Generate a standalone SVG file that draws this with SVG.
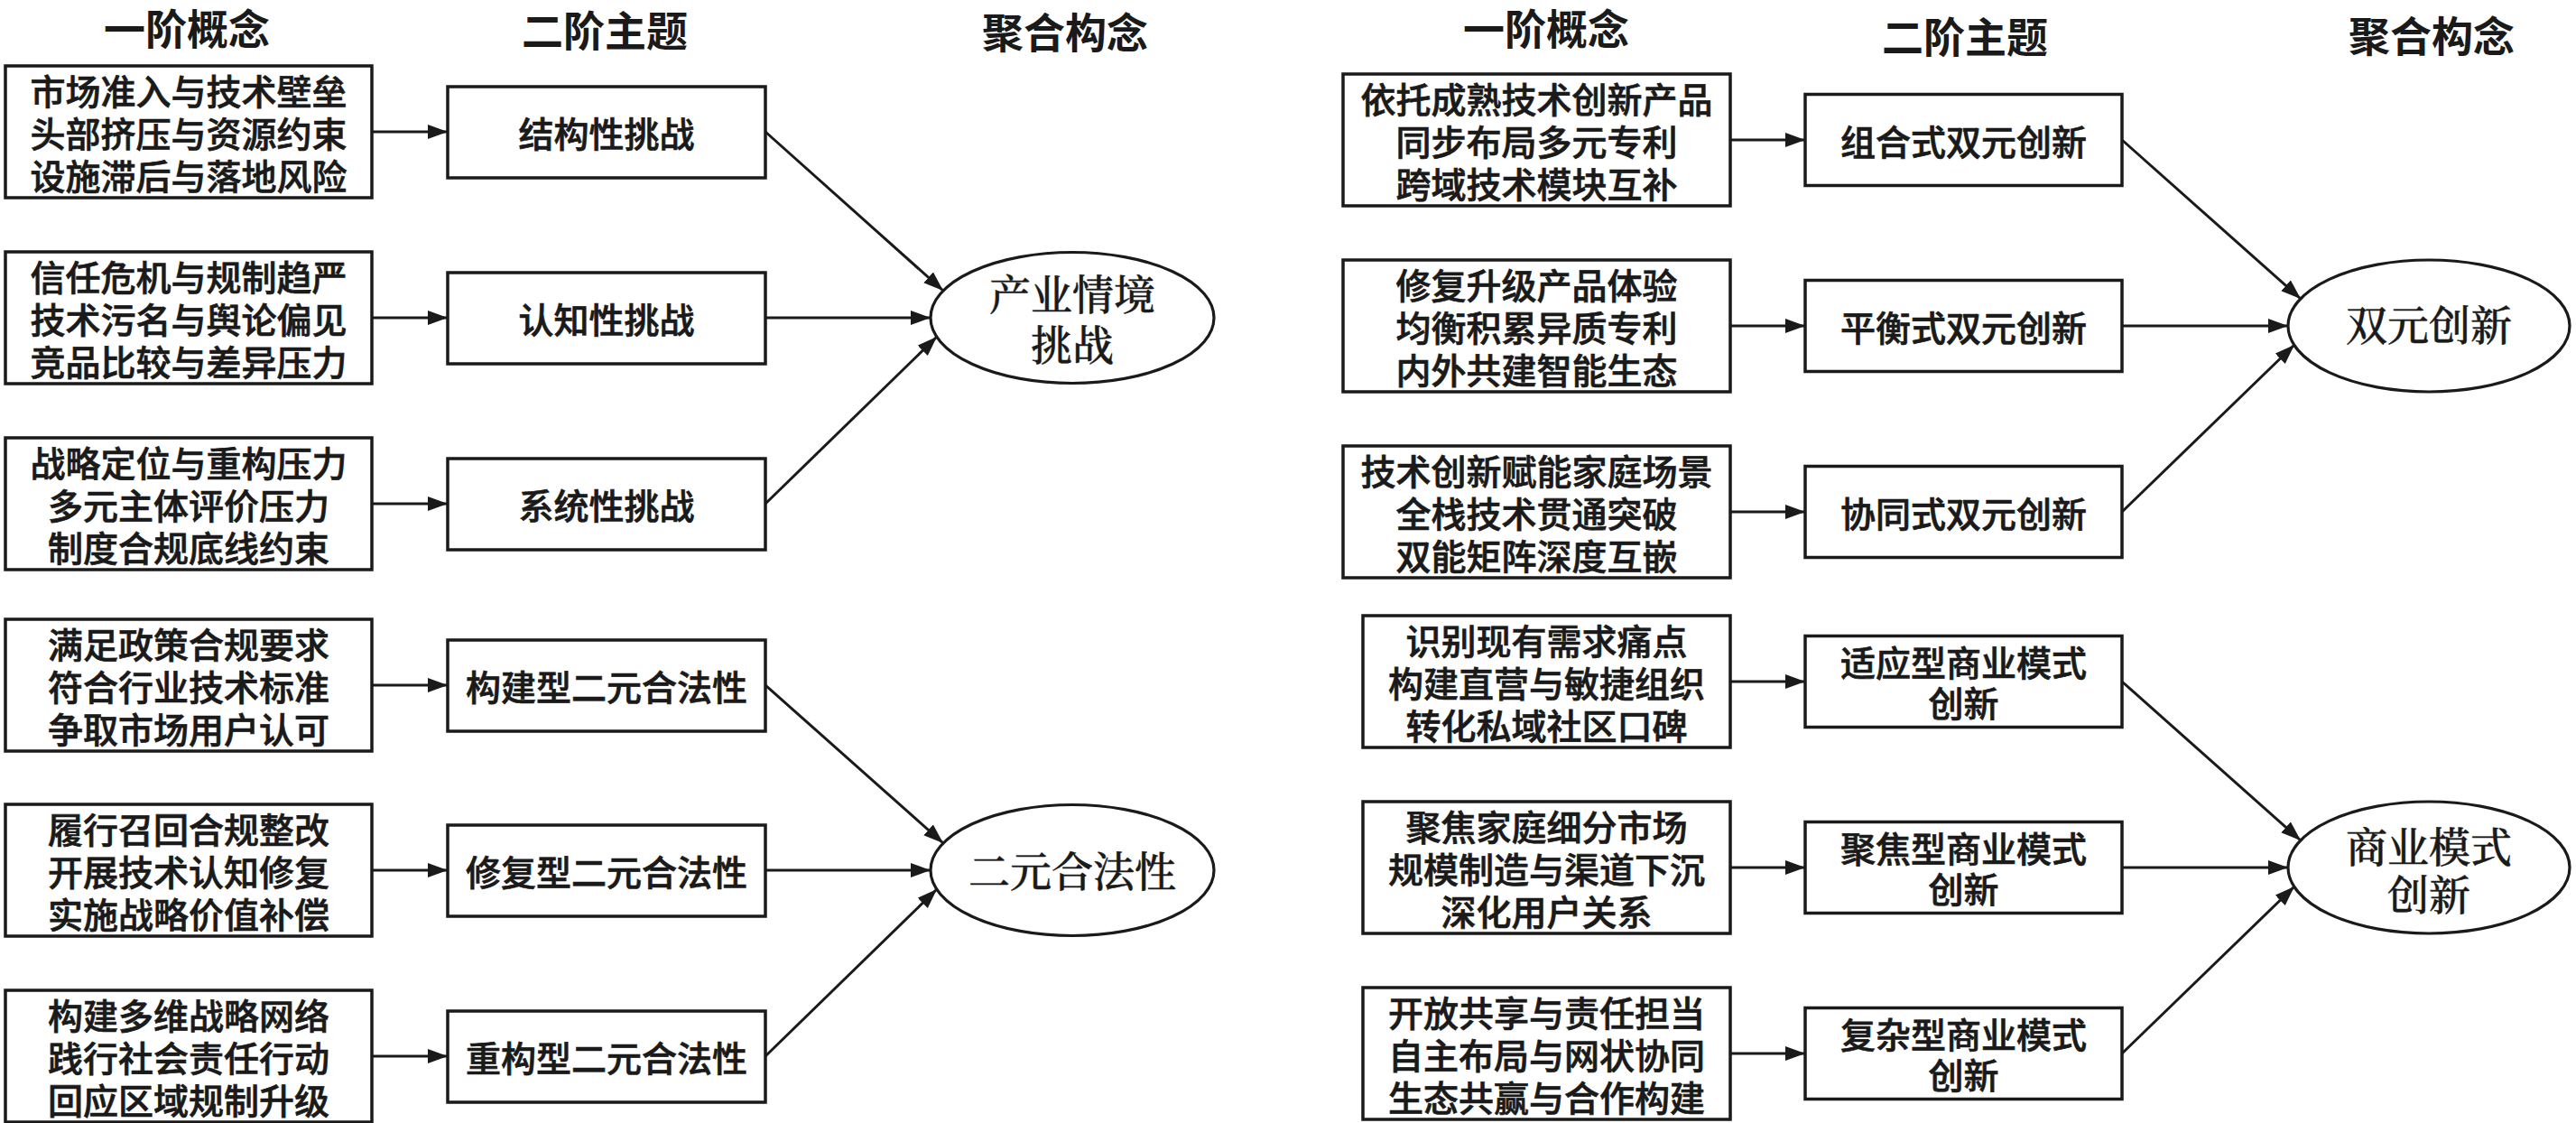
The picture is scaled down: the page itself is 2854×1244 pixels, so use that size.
<svg xmlns="http://www.w3.org/2000/svg" width="2854" height="1244" viewBox="0 0 2854 1244">
<style>
  .bg{fill:#ffffff}
  .box{fill:#ffffff;stroke:#1a1a1a;stroke-width:3.5}
  .ell{fill:#ffffff;stroke:#1a1a1a;stroke-width:3.2}
  .t{font-family:"Noto Sans CJK SC","Noto Sans",sans-serif;font-size:39px;font-weight:500;fill:#1a1a1a;stroke:#1a1a1a;stroke-width:0.7;text-anchor:middle;dominant-baseline:central}
  .h{font-family:"Noto Sans CJK SC","Noto Sans",sans-serif;font-size:46px;font-weight:700;fill:#1a1a1a;text-anchor:middle;dominant-baseline:central}
  .e{font-family:"Noto Serif CJK SC","Noto Sans CJK SC",serif;font-size:46px;font-weight:500;fill:#1a1a1a;stroke:#1a1a1a;stroke-width:0.5;text-anchor:middle;dominant-baseline:central}
  .c{stroke:#1a1a1a;stroke-width:3;fill:none;marker-end:url(#arr)}
</style>
<defs>
  <marker id="arr" markerUnits="userSpaceOnUse" markerWidth="24" markerHeight="18" refX="22" refY="8" orient="auto">
    <path d="M0,0 L22,8 L0,16 Z" fill="#1a1a1a"/>
  </marker>
</defs>
<rect class="bg" x="0" y="0" width="2854" height="1244"/>

<g id="headers">
  <text class="h" x="207" y="29">一阶概念</text>
  <text class="h" x="670" y="31">二阶主题</text>
  <text class="h" x="1180" y="33">聚合构念</text>
  <text class="h" x="1713" y="29">一阶概念</text>
  <text class="h" x="2177" y="38">二阶主题</text>
  <text class="h" x="2694" y="37">聚合构念</text>
</g>

<g id="connectors">
  <line class="c" x1="412" y1="146" x2="496" y2="146"/>
  <line class="c" x1="412" y1="352" x2="496" y2="352"/>
  <line class="c" x1="412" y1="558" x2="496" y2="558"/>
  <line class="c" x1="412" y1="759" x2="496" y2="759"/>
  <line class="c" x1="412" y1="964" x2="496" y2="964"/>
  <line class="c" x1="412" y1="1170" x2="496" y2="1170"/>
  <line class="c" x1="848" y1="146" x2="1045" y2="322"/>
  <line class="c" x1="848" y1="352" x2="1031" y2="352"/>
  <line class="c" x1="848" y1="558" x2="1038" y2="373"/>
  <line class="c" x1="848" y1="759" x2="1045" y2="934"/>
  <line class="c" x1="848" y1="964" x2="1031" y2="964"/>
  <line class="c" x1="848" y1="1170" x2="1038" y2="985"/>
  <line class="c" x1="1917" y1="155" x2="2000" y2="155"/>
  <line class="c" x1="1917" y1="361" x2="2000" y2="361"/>
  <line class="c" x1="1917" y1="567" x2="2000" y2="567"/>
  <line class="c" x1="1917" y1="755" x2="2000" y2="755"/>
  <line class="c" x1="1917" y1="961" x2="2000" y2="961"/>
  <line class="c" x1="1917" y1="1167" x2="2000" y2="1167"/>
  <line class="c" x1="2351" y1="155" x2="2549" y2="331"/>
  <line class="c" x1="2351" y1="361" x2="2535" y2="361"/>
  <line class="c" x1="2351" y1="567" x2="2542" y2="382"/>
  <line class="c" x1="2351" y1="755" x2="2549" y2="931"/>
  <line class="c" x1="2351" y1="961" x2="2535" y2="961"/>
  <line class="c" x1="2351" y1="1167" x2="2542" y2="982"/>
</g>

<!-- Left: first-order concepts -->
<g id="lc1"><rect class="box" x="6" y="73" width="406" height="146"/>
  <text class="t" x="209" y="99">市场准入与技术壁垒</text><text class="t" x="209" y="146">头部挤压与资源约束</text><text class="t" x="209" y="193">设施滞后与落地风险</text></g>
<g id="lc2"><rect class="box" x="6" y="279" width="406" height="146"/>
  <text class="t" x="209" y="305">信任危机与规制趋严</text><text class="t" x="209" y="352">技术污名与舆论偏见</text><text class="t" x="209" y="399">竞品比较与差异压力</text></g>
<g id="lc3"><rect class="box" x="6" y="485" width="406" height="146"/>
  <text class="t" x="209" y="511">战略定位与重构压力</text><text class="t" x="209" y="558">多元主体评价压力</text><text class="t" x="209" y="605">制度合规底线约束</text></g>
<g id="lc4"><rect class="box" x="6" y="686" width="406" height="146"/>
  <text class="t" x="209" y="712">满足政策合规要求</text><text class="t" x="209" y="759">符合行业技术标准</text><text class="t" x="209" y="806">争取市场用户认可</text></g>
<g id="lc5"><rect class="box" x="6" y="891" width="406" height="146"/>
  <text class="t" x="209" y="917">履行召回合规整改</text><text class="t" x="209" y="964">开展技术认知修复</text><text class="t" x="209" y="1011">实施战略价值补偿</text></g>
<g id="lc6"><rect class="box" x="6" y="1097" width="406" height="146"/>
  <text class="t" x="209" y="1123">构建多维战略网络</text><text class="t" x="209" y="1170">践行社会责任行动</text><text class="t" x="209" y="1217">回应区域规制升级</text></g>

<!-- Left: second-order themes -->
<g id="lt1"><rect class="box" x="496" y="96" width="352" height="101"/><text class="t" x="672" y="146">结构性挑战</text></g>
<g id="lt2"><rect class="box" x="496" y="302" width="352" height="101"/><text class="t" x="672" y="352">认知性挑战</text></g>
<g id="lt3"><rect class="box" x="496" y="508" width="352" height="101"/><text class="t" x="672" y="558">系统性挑战</text></g>
<g id="lt4"><rect class="box" x="496" y="709" width="352" height="101"/><text class="t" x="672" y="759">构建型二元合法性</text></g>
<g id="lt5"><rect class="box" x="496" y="914" width="352" height="101"/><text class="t" x="672" y="964">修复型二元合法性</text></g>
<g id="lt6"><rect class="box" x="496" y="1120" width="352" height="101"/><text class="t" x="672" y="1170">重构型二元合法性</text></g>

<!-- Left: aggregate constructs -->
<g id="la1"><ellipse class="ell" cx="1188" cy="352" rx="157" ry="72.5"/>
  <text class="e" x="1188" y="323">产业情境</text><text class="e" x="1188" y="379">挑战</text></g>
<g id="la2"><ellipse class="ell" cx="1188" cy="964" rx="157" ry="72.5"/>
  <text class="e" x="1188" y="962">二元合法性</text></g>

<!-- Right: first-order concepts -->
<g id="rc1"><rect class="box" x="1488" y="82" width="429" height="146"/>
  <text class="t" x="1702.5" y="108">依托成熟技术创新产品</text><text class="t" x="1702.5" y="155">同步布局多元专利</text><text class="t" x="1702.5" y="202">跨域技术模块互补</text></g>
<g id="rc2"><rect class="box" x="1488" y="288" width="429" height="146"/>
  <text class="t" x="1702.5" y="314">修复升级产品体验</text><text class="t" x="1702.5" y="361">均衡积累异质专利</text><text class="t" x="1702.5" y="408">内外共建智能生态</text></g>
<g id="rc3"><rect class="box" x="1488" y="494" width="429" height="146"/>
  <text class="t" x="1702.5" y="520">技术创新赋能家庭场景</text><text class="t" x="1702.5" y="567">全栈技术贯通突破</text><text class="t" x="1702.5" y="614">双能矩阵深度互嵌</text></g>
<g id="rc4"><rect class="box" x="1510" y="682" width="407" height="146"/>
  <text class="t" x="1713.5" y="708">识别现有需求痛点</text><text class="t" x="1713.5" y="755">构建直营与敏捷组织</text><text class="t" x="1713.5" y="802">转化私域社区口碑</text></g>
<g id="rc5"><rect class="box" x="1510" y="888" width="407" height="146"/>
  <text class="t" x="1713.5" y="914">聚焦家庭细分市场</text><text class="t" x="1713.5" y="961">规模制造与渠道下沉</text><text class="t" x="1713.5" y="1008">深化用户关系</text></g>
<g id="rc6"><rect class="box" x="1510" y="1094" width="407" height="146"/>
  <text class="t" x="1713.5" y="1120">开放共享与责任担当</text><text class="t" x="1713.5" y="1167">自主布局与网状协同</text><text class="t" x="1713.5" y="1214">生态共赢与合作构建</text></g>

<!-- Right: second-order themes -->
<g id="rt1"><rect class="box" x="2000" y="104.5" width="351" height="101"/><text class="t" x="2175.5" y="155">组合式双元创新</text></g>
<g id="rt2"><rect class="box" x="2000" y="310.5" width="351" height="101"/><text class="t" x="2175.5" y="361">平衡式双元创新</text></g>
<g id="rt3"><rect class="box" x="2000" y="516.5" width="351" height="101"/><text class="t" x="2175.5" y="567">协同式双元创新</text></g>
<g id="rt4"><rect class="box" x="2000" y="704.5" width="351" height="101"/>
  <text class="t" x="2175.5" y="732">适应型商业模式</text><text class="t" x="2175.5" y="777">创新</text></g>
<g id="rt5"><rect class="box" x="2000" y="910.5" width="351" height="101"/>
  <text class="t" x="2175.5" y="938">聚焦型商业模式</text><text class="t" x="2175.5" y="983">创新</text></g>
<g id="rt6"><rect class="box" x="2000" y="1116.5" width="351" height="101"/>
  <text class="t" x="2175.5" y="1144">复杂型商业模式</text><text class="t" x="2175.5" y="1189">创新</text></g>

<!-- Right: aggregate constructs -->
<g id="ra1"><ellipse class="ell" cx="2691" cy="361" rx="156" ry="73"/>
  <text class="e" x="2691" y="357">双元创新</text></g>
<g id="ra2"><ellipse class="ell" cx="2691" cy="961" rx="156" ry="73"/>
  <text class="e" x="2691" y="935">商业模式</text><text class="e" x="2691" y="988">创新</text></g>
</svg>
